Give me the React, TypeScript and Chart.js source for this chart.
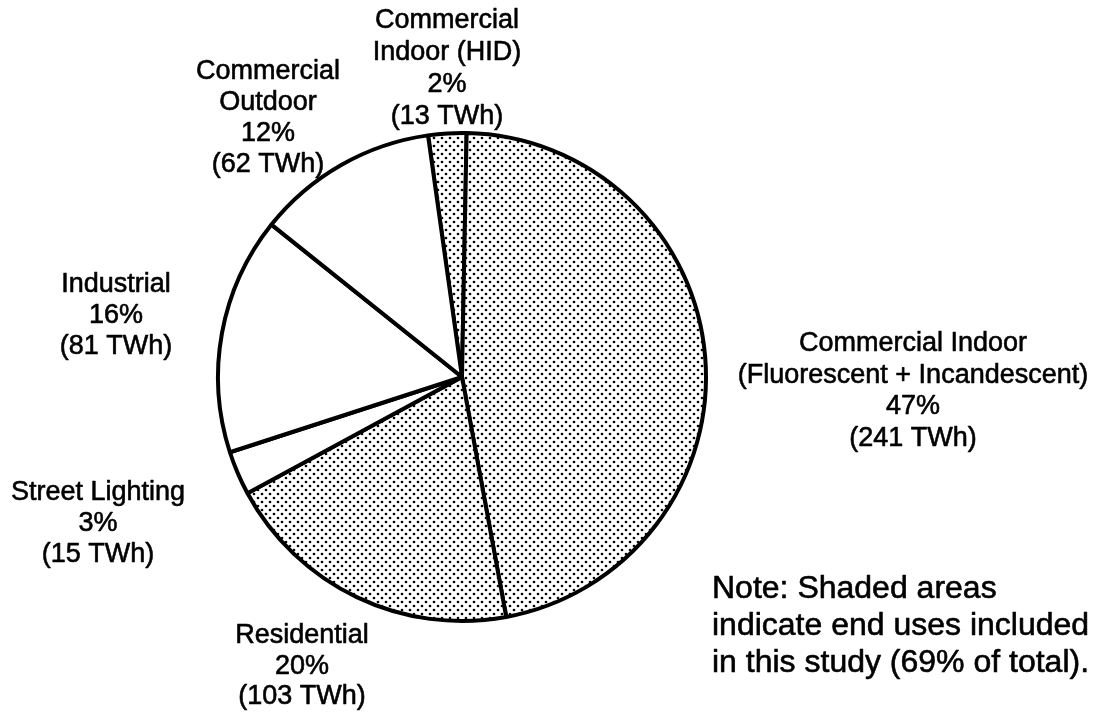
import { useEffect, useRef } from "react";
import { Chart, registerables } from "chart.js";

Chart.register(...registerables);

// ---- data ----
const CATEGORIES = [
  "Commercial Indoor (HID)",
  "Commercial Indoor (Fluorescent + Incandescent)",
  "Residential",
  "Street Lighting",
  "Industrial",
  "Commercial Outdoor",
];
const TWH = [13, 241, 103, 15, 81, 62];
const PERCENT = [2, 47, 20, 3, 16, 12];
const SHADED = [true, true, true, false, false, false];
const LABEL_HEADERS = [
  ["Commercial", "Indoor (HID)"],
  ["Commercial Indoor", "(Fluorescent + Incandescent)"],
  ["Residential"],
  ["Street Lighting"],
  ["Industrial"],
  ["Commercial", "Outdoor"],
];
const NOTE_LINES = [
  "Note: Shaded areas",
  "indicate end uses included",
  "in this study (69% of total).",
];

// ---- layout (positions of the text blocks, separate from data) ----
const LABEL_POS = [
  { x: 447, y: 28, lh: 32 },
  { x: 913, y: 351, lh: 31.7 },
  { x: 302, y: 643, lh: 30.5 },
  { x: 98, y: 500, lh: 31 },
  { x: 116, y: 292, lh: 31 },
  { x: 268, y: 79, lh: 31 },
];
const NOTE_POS = { x: 712, y: 598, lh: 37 };
const FONT = '"Liberation Sans", Arial, Helvetica, sans-serif';

function makeDotPattern(): CanvasPattern | string {
  const c = document.createElement("canvas");
  c.width = 8;
  c.height = 8;
  const g = c.getContext("2d");
  if (!g) return "#ccc";
  g.fillStyle = "#fff";
  g.fillRect(0, 0, 8, 8);
  g.fillStyle = "#000";
  for (const [px, py] of [
    [2, 2],
    [6, 6],
  ]) {
    g.beginPath();
    g.arc(px, py, 1.35, 0, Math.PI * 2);
    g.fill();
  }
  const p = g.createPattern(c, "repeat");
  return p || "#ccc";
}

function drawText(ctx: CanvasRenderingContext2D, t: string, x: number, y: number) {
  ctx.fillText(t, x, y);
  ctx.strokeText(t, x, y);
}

const labelPlugin = {
  id: "pieLabels",
  afterDraw(chart: any) {
    const ctx = chart.ctx as CanvasRenderingContext2D;
    ctx.save();
    ctx.fillStyle = "#000";
    ctx.strokeStyle = "#000";
    ctx.lineWidth = 0.6;
    ctx.lineJoin = "round";
    ctx.textBaseline = "alphabetic";
    ctx.textAlign = "center";
    ctx.font = `27px ${FONT}`;
    LABEL_HEADERS.forEach((hdr, i) => {
      const lines = [...hdr, `${PERCENT[i]}%`, `(${TWH[i]} TWh)`];
      const pos = LABEL_POS[i];
      lines.forEach((t, k) => drawText(ctx, t, pos.x, pos.y + k * pos.lh));
    });
    ctx.textAlign = "left";
    ctx.font = `32px ${FONT}`;
    NOTE_LINES.forEach((t, k) =>
      drawText(ctx, t, NOTE_POS.x, NOTE_POS.y + k * NOTE_POS.lh)
    );
    ctx.restore();
  },
};

export default function App() {
  const ref = useRef<HTMLCanvasElement>(null);

  useEffect(() => {
    if (!ref.current) return;
    const dots = makeDotPattern();
    const chart = new Chart(ref.current, {
      type: "pie",
      data: {
        labels: CATEGORIES,
        datasets: [
          {
            data: TWH,
            backgroundColor: SHADED.map((s) => (s ? dots : "#ffffff")) as any,
            borderColor: "#000",
            borderWidth: 4,
            hoverOffset: 0,
          },
        ],
      },
      options: {
        responsive: false,
        animation: false,
        rotation: -8,
        layout: { padding: { left: 216, top: 131, right: 395, bottom: 93 } },
        plugins: {
          legend: { display: false },
          tooltip: { enabled: false },
        },
        events: [],
      },
      plugins: [labelPlugin],
    });
    return () => chart.destroy();
  }, []);

  return (
    <div
      style={{
        position: "fixed",
        left: 0,
        top: 0,
        width: 1103,
        height: 716,
        background: "#fff",
      }}
    >
      <canvas ref={ref} width={1103} height={716} />
    </div>
  );
}
